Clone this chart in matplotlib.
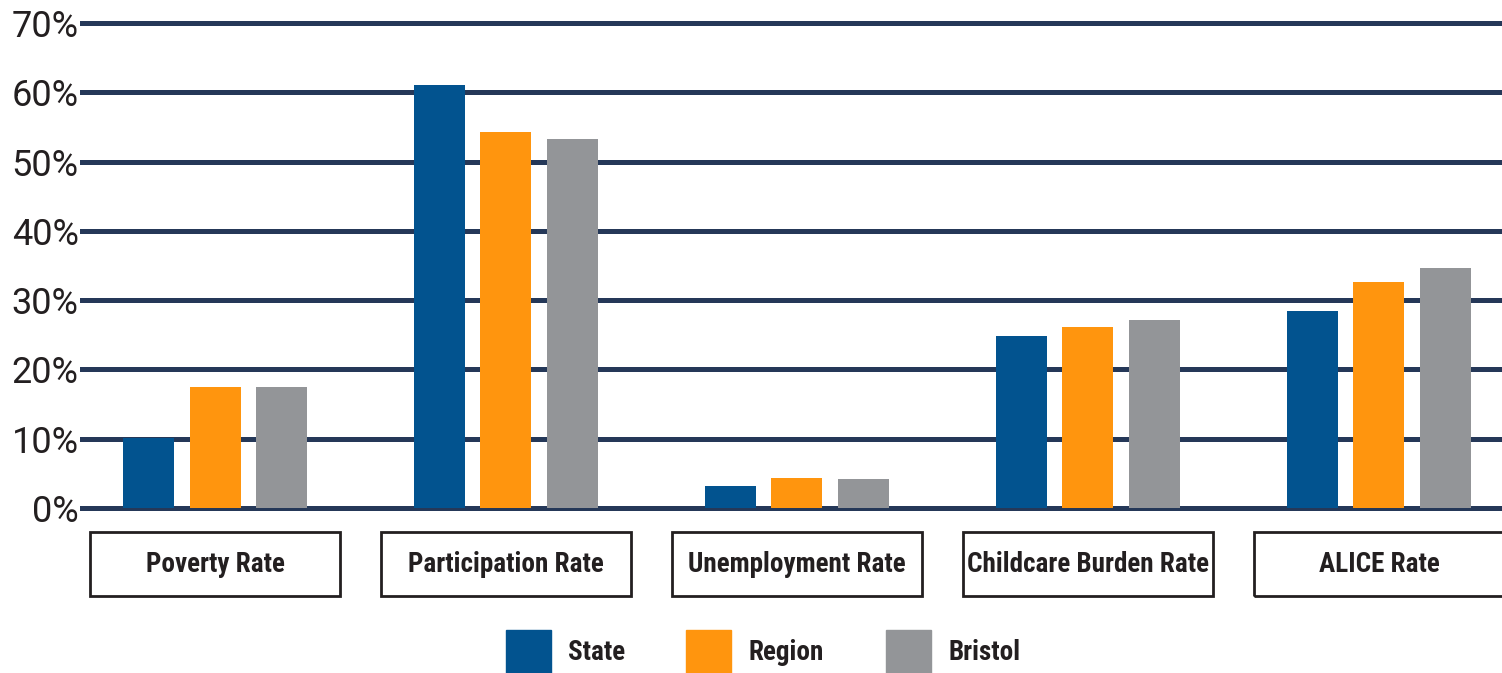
import matplotlib
matplotlib.use("Agg")
from pathlib import Path
import matplotlib.pyplot as plt
from matplotlib import font_manager as fm
from matplotlib.patches import Rectangle
import numpy as np

# data (percent)
categories = ["Poverty Rate", "Participation Rate", "Unemployment Rate",
              "Childcare Burden Rate", "ALICE Rate"]
series_names = ["State", "Region", "Bristol"]
state = [10.1, 61.1, 3.2, 24.8, 28.5]
region = [17.4, 54.2, 4.3, 26.1, 32.6]
bristol = [17.4, 53.2, 4.2, 27.1, 34.6]
y_ticks = [0, 10, 20, 30, 40, 50, 60, 70]

colors = ["#02538f", "#ff950e", "#939598"]
grid_color = "#253858"
text_color = "#231f20"


def pick_label_font():
    """Prefer any condensed / narrow bold face that happens to be installed."""
    tries = [("Roboto Condensed", "normal"), ("Noto Sans", "extra-condensed"),
             ("Noto Sans", "condensed"), ("Open Sans", "condensed"),
             ("Liberation Sans Narrow", "normal"),
             ("DejaVu Sans", "condensed")]
    for fam, stretch in tries:
        fp = fm.FontProperties(family=fam, weight="bold", stretch=stretch)
        try:
            path = fm.findfont(fp, fallback_to_default=False)
        except ValueError:
            continue
        name = Path(path).name.lower()
        if "condensed" in name or "narrow" in name:
            return fp
    return fm.FontProperties(family="Roboto", weight="bold")


W, H = 1502, 673
fig = plt.figure(figsize=(W / 100, H / 100), dpi=100)

# axes placed so that 0% sits at y=508px and 70% at y=23px
ymin, ymax = -0.6, 70.6
px_per_unit = (508 - 23) / 70
top_px = 23 - (ymax - 70) * px_per_unit
bot_px = 508 - ymin * px_per_unit
ax = fig.add_axes([80 / W, 1 - bot_px / H, 1422 / W, (bot_px - top_px) / H])

x = np.arange(len(categories))
group_px = 291.0
width = 51 / group_px
step = 66.5 / group_px

for k, (vals, c) in enumerate(zip([state, region, bristol], colors)):
    ax.bar(x + (k - 1) * step, vals, width=width, color=c, zorder=3)

for t in y_ticks:
    ax.axhline(t, color=grid_color, lw=3.6, zorder=1)

ax.set_xlim((80 - 215) / group_px, (1502 - 215) / group_px)
ax.set_ylim(ymin, ymax)
ax.set_yticks(y_ticks)
ax.set_yticklabels([f"{t}%" for t in y_ticks], family="Roboto",
                   fontsize=26, color=text_color)
ax.tick_params(axis="y", length=0, pad=1)
ax.set_xticks([])
for s in ax.spines.values():
    s.set_visible(False)

# size the label font so the longest label spans ~242px like the reference
label_fp = pick_label_font()
probe = fig.text(0, 0, categories[3], fontproperties=label_fp, fontsize=20)
fig.canvas.draw()
probe_w = probe.get_window_extent().width
probe.remove()
label_size = min(20 * 242 / probe_w, 26)
label_fp.set_size(label_size)

# boxed category labels under the axis
trans = ax.get_xaxis_transform()
pos = ax.get_position()
box_w = 250 / group_px
box_y0 = (1 - 596 / H - pos.y0) / pos.height
box_h = (64 / H) / pos.height
for i, name in enumerate(categories):
    ax.add_patch(Rectangle((x[i] - box_w / 2, box_y0), box_w, box_h,
                           transform=trans, fill=False, ec="#231f20",
                           lw=2, clip_on=False))
    ax.text(x[i], box_y0 + box_h / 2, name, transform=trans, ha="center",
            va="center", fontproperties=label_fp, color=text_color)

# legend drawn as squares + labels along the bottom
sq_left = [506, 686, 886]
for name, c, left in zip(series_names, colors, sq_left):
    fig.patches.append(Rectangle((left / W, 0), 45 / W, 43 / H,
                                 transform=fig.transFigure, color=c))
    fig.text((left + 62) / W, 21 / H, name, ha="left", va="center",
             fontproperties=label_fp, color=text_color)

fig.savefig("out.png", dpi=100)
